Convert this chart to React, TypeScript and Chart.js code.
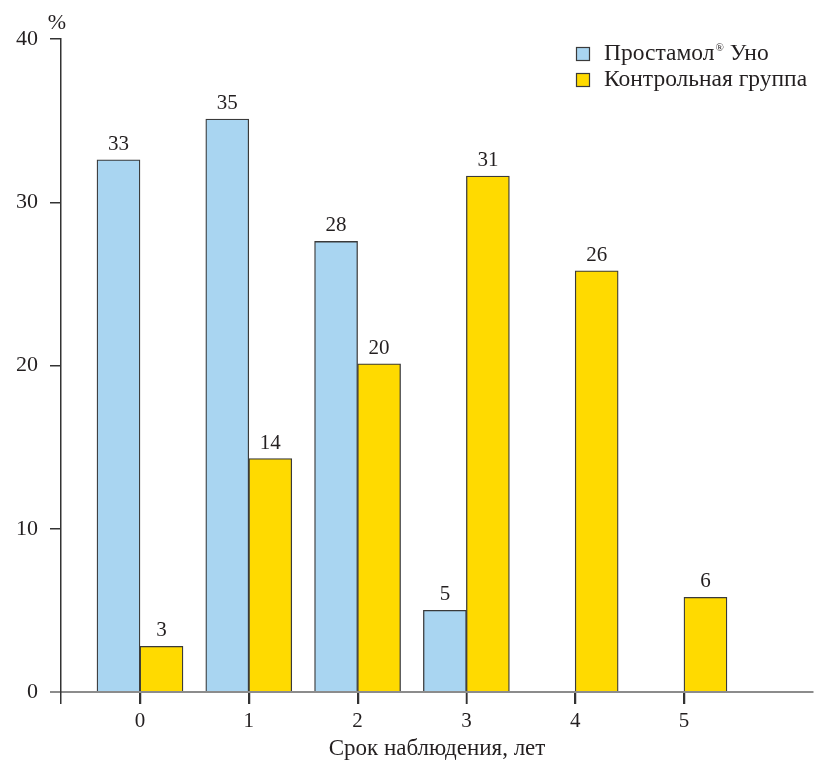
import React, { useEffect, useRef } from 'react';
import { Chart, registerables } from 'chart.js';

Chart.register(...registerables);

const CATEGORIES = ['0', '1', '2', '3', '4', '5'];
const SERIES_NAMES = ['Простамол® Уно', 'Контрольная группа'];
const PROSTAMOL_VALUES = [32.6, 35.1, 27.6, 5.0];
const PROSTAMOL_LABELS = ['33', '35', '28', '5'];
const CONTROL_VALUES = [2.8, 14.3, 20.1, 31.6, 25.8, 5.8];
const CONTROL_LABELS = ['3', '14', '20', '31', '26', '6'];
const Y_TICKS = [0, 10, 20, 30, 40];
const Y_UNIT = '%';
const X_TITLE = 'Срок наблюдения, лет';

const X_MIN = -0.726;
const X_MAX = 6.186;
const FONT = '"Liberation Serif", "DejaVu Serif", serif';
const BLUE = '#A9D5F1';
const YELLOW = '#FFDA00';
const STROKE = '#3a3a3a';
const TEXT = '#231f20';

const decorPlugin = {
  id: 'decor',
  afterDraw(chart: any) {
    const ctx = chart.ctx;
    const area = chart.chartArea;
    const xs = chart.scales.x;
    ctx.save();

    // x tick marks at each category
    ctx.strokeStyle = '#333';
    ctx.lineWidth = 1.5;
    CATEGORIES.forEach((c, i) => {
      const px = Math.round(xs.getPixelForValue(i)) + 0.5;
      ctx.beginPath();
      ctx.moveTo(px, area.bottom + 1);
      ctx.lineTo(px, area.bottom + 12);
      ctx.stroke();
    });

    ctx.fillStyle = TEXT;

    // value labels above bars
    const labelSets = [PROSTAMOL_LABELS, CONTROL_LABELS];
    ctx.font = `21px ${FONT}`;
    ctx.textAlign = 'center';
    ctx.textBaseline = 'alphabetic';
    chart.data.datasets.forEach((ds: any, di: number) => {
      const meta = chart.getDatasetMeta(di);
      meta.data.forEach((bar: any, i: number) => {
        const txt = labelSets[di][i];
        if (txt == null) return;
        ctx.fillText(txt, bar.x, bar.y - 10);
      });
    });

    // unit label
    ctx.font = `22px ${FONT}`;
    ctx.textAlign = 'center';
    ctx.textBaseline = 'alphabetic';
    ctx.fillText(Y_UNIT, area.left - 4, 29);

    // x title
    ctx.font = `23px ${FONT}`;
    ctx.textAlign = 'center';
    ctx.textBaseline = 'alphabetic';
    ctx.fillText(X_TITLE, (area.left + area.right) / 2, 755);

    // legend
    const colors = [BLUE, YELLOW];
    const boxX = 576.5;
    const baselines = [60, 86];
    chart.data.datasets.forEach((ds: any, di: number) => {
      const base = baselines[di];
      ctx.fillStyle = colors[di];
      ctx.fillRect(boxX, base - 12.5, 13, 13);
      ctx.strokeStyle = STROKE;
      ctx.lineWidth = 1.2;
      ctx.strokeRect(boxX, base - 12.5, 13, 13);
      ctx.fillStyle = TEXT;
      ctx.textAlign = 'left';
      ctx.textBaseline = 'alphabetic';
      const parts = String(ds.label).split('®');
      let x = 604;
      ctx.font = `23.5px ${FONT}`;
      ctx.fillText(parts[0], x, base);
      x += ctx.measureText(parts[0]).width;
      if (parts.length > 1) {
        ctx.font = `11px ${FONT}`;
        ctx.fillText('®', x + 1, base - 9);
        x += ctx.measureText('®').width + 1;
        ctx.font = `23.5px ${FONT}`;
        ctx.fillText(parts[1], x, base);
      }
    });
    ctx.restore();
  },
};

export default function App() {
  const ref = useRef<HTMLCanvasElement>(null);
  useEffect(() => {
    document.body.style.margin = '0';
    const canvas = ref.current!;
    const chart = new Chart(canvas, {
      type: 'bar',
      data: {
        datasets: [
          {
            label: SERIES_NAMES[0],
            data: PROSTAMOL_VALUES.map((v, i) => ({ x: i, y: v })),
            backgroundColor: BLUE,
            borderColor: STROKE,
            borderWidth: 1.3,
            barThickness: 43,
          },
          {
            label: SERIES_NAMES[1],
            data: CONTROL_VALUES.map((v, i) => ({ x: i, y: v })),
            backgroundColor: YELLOW,
            borderColor: STROKE,
            borderWidth: 1.3,
            barThickness: 43,
          },
        ],
      } as any,
      options: {
        responsive: false,
        animation: false,
        devicePixelRatio: 1,
        layout: { padding: { top: 39, right: 2, bottom: 0, left: 0 } },
        plugins: {
          legend: { display: false },
          tooltip: { enabled: false },
        },
        scales: {
          x: {
            type: 'linear',
            min: X_MIN,
            max: X_MAX,
            offset: false,
            afterBuildTicks: (scale: any) => {
              scale.ticks = [{ value: X_MIN }, ...CATEGORIES.map((c, i) => ({ value: i }))];
            },
            afterFit: (scale: any) => {
              scale.height = 68;
            },
            grid: {
              offset: false,
              drawOnChartArea: false,
              drawTicks: true,
              tickLength: 12,
              color: '#333',
              lineWidth: 1.5,
            },
            border: { display: true, color: '#8c8c8c', width: 2 },
            ticks: {
              autoSkip: false,
              maxRotation: 0,
              padding: 5,
              color: TEXT,
              font: { family: FONT, size: 21 },
              callback: (v: any, index: number) => (index === 0 ? '' : CATEGORIES[index - 1]),
            },
          },
          y: {
            min: 0,
            max: 40,
            afterBuildTicks: (scale: any) => {
              scale.ticks = Y_TICKS.map((v) => ({ value: v }));
            },
            afterFit: (scale: any) => {
              scale.width = 61;
            },
            grid: {
              drawOnChartArea: false,
              drawTicks: true,
              tickLength: 11,
              color: (c: any) => (c.tick && c.tick.value === 0 ? '#8c8c8c' : '#333'),
              lineWidth: (c: any) => (c.tick && c.tick.value === 0 ? 2 : 1.5),
            },
            border: { display: true, color: '#333', width: 1.5 },
            ticks: {
              padding: 12,
              color: TEXT,
              font: { family: FONT, size: 22 },
            },
          },
        },
      } as any,
      plugins: [decorPlugin],
    });
    return () => chart.destroy();
  }, []);
  return <canvas ref={ref} width={815} height={760} style={{ display: 'block' }} />;
}
